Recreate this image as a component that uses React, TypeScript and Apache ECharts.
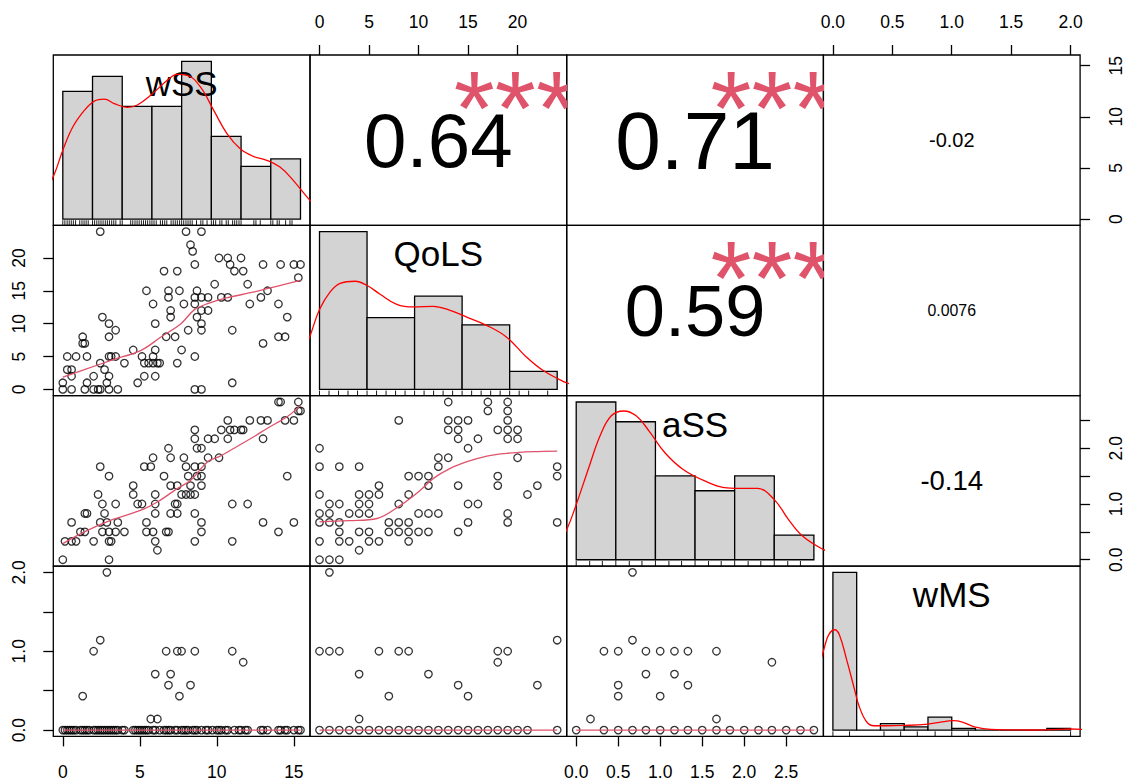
import React, { useEffect, useRef } from "react";
import * as echarts from "echarts";

const FONT = "'Liberation Sans', Arial, Helvetica, sans-serif";
const SMOOTH_COLOR = "#DF536B";
const DENSITY_COLOR = "#FF0000";
const BAR_FILL = "#D3D3D3";

// Scatterplot-matrix layout (4 x 4 panels, no gap)
const GRID_LEFT = 53.3;
const GRID_TOP = 55;
const CELL_W = 256.7;
const CELL_H = 170.35;

const variableNames = ["wSS", "QoLS", "aSS", "wMS"];
const observationCount = 113;

// Histogram breaks and counts for the diagonal
const wssBreaks = [0, 2, 4, 6, 8, 10, 12, 14, 16];
const wssCounts = [17, 19, 15, 15, 21, 11, 7, 8];
const qolsBreaks = [0, 5, 10, 15, 20, 25];
const qolsCounts = [44, 20, 26, 18, 5];
const assBreaks = [0, 0.5, 1, 1.5, 2, 2.5, 3];
const assCounts = [32, 28, 17, 14, 17, 5];
const wmsBreaks = [0, 0.2, 0.4, 0.6, 0.8, 1, 1.2, 1.4, 1.6, 1.8, 2];
const wmsCounts = [97, 0, 4, 2, 8, 1, 0, 0, 0, 1];

// Kernel density estimates [value, density]
const wssDensity = [
  [-1.2, 0.015], [-0.56, 0.0267], [0, 0.0405], [0.67, 0.0542], [1.45, 0.064], [2.12, 0.0695],
  [2.79, 0.0707], [3.46, 0.068], [4.35, 0.0658], [5.02, 0.0672], [5.92, 0.0729], [7.03, 0.0817],
  [7.7, 0.0852], [8.37, 0.0847], [9.26, 0.0778], [10.16, 0.064], [11.05, 0.0503], [11.94, 0.0414],
  [12.83, 0.0369], [13.73, 0.0346], [14.62, 0.0306], [15.51, 0.0228], [16.58, 0.0116], [17.3, 0.006],
];
const qolsDensity = [
  [-1.6, 0.019], [-0.98, 0.0266], [0, 0.0394], [1.12, 0.0481], [2.17, 0.0523], [3.75, 0.0534],
  [4.97, 0.0514], [6.37, 0.047], [8.12, 0.042], [9.87, 0.0407], [11.97, 0.041], [13.73, 0.039],
  [15.48, 0.0357], [17.58, 0.0316], [19.68, 0.0258], [21.78, 0.0159], [23.53, 0.0093],
  [25.8, 0.0036], [26.6, 0.0025],
];
const assDensity = [
  [-0.22, 0.06], [-0.12, 0.108], [0, 0.198], [0.165, 0.336], [0.3, 0.444], [0.44, 0.516],
  [0.6, 0.534], [0.76, 0.516], [0.92, 0.462], [1.12, 0.384], [1.35, 0.324], [1.63, 0.282],
  [1.9, 0.258], [2.13, 0.256], [2.29, 0.256], [2.5, 0.216], [2.68, 0.144], [2.86, 0.084],
  [3.11, 0.038], [3.25, 0.025],
];
const wmsDensity = [
  [-0.1, 1.9], [-0.073, 2.23], [-0.036, 2.59], [0.015, 2.73], [0.055, 2.59], [0.116, 1.91],
  [0.176, 1.18], [0.222, 0.637], [0.283, 0.227], [0.343, 0.118], [0.45, 0.118], [0.6, 0.127],
  [0.78, 0.155], [0.906, 0.218], [1.01, 0.255], [1.09, 0.218], [1.19, 0.09], [1.33, 0.018],
  [1.67, 0.003], [1.91, 0.018], [2, 0.03], [2.1, 0.018],
];

// Pairwise observations [x, y]
const wssQols = [
  [2.43, 24], [8, 24], [9, 24], [8.29, 22], [8.43, 21], [10.14, 20], [10.71, 20], [11.57, 20],
  [8.57, 19], [10.86, 19], [13, 19], [14.14, 19], [15, 19], [15.43, 19],
  [6.57, 18], [7.43, 18], [11.14, 18], [11.71, 18], [15.29, 17], [9.86, 16], [12, 16],
  [5.43, 15], [6.86, 15], [7.57, 15], [8.71, 15], [13.29, 15],
  [6.86, 14], [8.57, 14], [9, 14], [9.43, 14], [10.29, 14], [10.71, 14], [12.86, 14],
  [5.86, 13], [7.86, 13], [8.57, 13], [12.14, 13], [14, 13],
  [7, 12], [9, 12], [9.43, 12],
  [2.57, 11], [7, 11], [8.71, 11], [14.57, 11],
  [3, 10], [6, 10], [9, 10],
  [3.43, 9], [8.14, 9], [9, 9], [11, 9],
  [1.29, 8], [3, 8], [6.71, 8], [7.29, 8], [14, 8], [14.43, 8],
  [1.29, 7], [1.43, 7], [13, 7],
  [4.57, 6], [6, 6], [7.71, 6],
  [0.29, 5], [0.86, 5], [1.57, 5], [3, 5], [3.14, 5], [3.43, 5], [5.14, 5], [5.86, 5], [8.57, 5],
  [2.43, 4], [4, 4], [5.29, 4], [5.57, 4], [5.86, 4], [6.14, 4], [6.29, 4], [7.43, 4],
  [0.29, 3], [0.57, 3], [2.71, 3],
  [0.57, 2], [2, 2], [3, 2], [5.29, 2], [6, 2],
  [0, 1], [1.57, 1], [2.86, 1], [4.86, 1], [11, 1],
  [0, 0], [0.57, 0], [1.43, 0], [2, 0], [2.29, 0], [2.43, 0], [3, 0], [3.57, 0], [8.57, 0], [9, 0],
];

const wssAss = [
  [14, 2.83], [14.14, 2.83], [15.29, 2.83],
  [15.29, 2.67], [15.43, 2.67],
  [10.71, 2.5], [12.14, 2.5], [12.86, 2.5], [13.29, 2.5], [14.43, 2.5], [15, 2.5],
  [8.57, 2.33], [10.29, 2.33], [10.86, 2.33], [11.14, 2.33], [11.57, 2.33], [11.71, 2.33],
  [8.57, 2.17], [9.43, 2.17], [9.86, 2.17], [10.71, 2.17], [13, 2.17],
  [6.86, 2], [8.71, 2], [9, 2],
  [5.86, 1.83], [7, 1.83], [7.86, 1.83], [9.43, 1.83], [10.14, 1.83],
  [2.43, 1.67], [5.29, 1.67], [5.71, 1.67], [8, 1.67], [8.57, 1.67], [9, 1.67],
  [3, 1.5], [6.57, 1.5], [8.14, 1.5], [8.71, 1.5], [9, 1.5], [14.57, 1.5],
  [4.57, 1.33], [7, 1.33], [7.43, 1.33], [8.29, 1.33], [9, 1.33],
  [2.29, 1.17], [4.57, 1.17], [6, 1.17], [7.71, 1.17], [8, 1.17], [8.29, 1.17], [8.57, 1.17],
  [2.57, 1], [3.43, 1], [4.86, 1], [5.14, 1], [6, 1], [7.29, 1], [7.43, 1], [11, 1], [12, 1],
  [1.43, 0.83], [1.57, 0.83], [2.71, 0.83], [6, 0.83], [7, 0.83], [7.43, 0.83], [8.57, 0.83],
  [0.57, 0.67], [2.43, 0.67], [2.86, 0.67], [3.57, 0.67], [5.43, 0.67], [9, 0.67], [13, 0.67], [15, 0.67],
  [1.14, 0.5], [1.43, 0.5], [2.57, 0.5], [3, 0.5], [3.43, 0.5], [4, 0.5], [5.43, 0.5], [5.86, 0.5],
  [6.71, 0.5], [6.86, 0.5], [9, 0.5], [14, 0.5],
  [0.14, 0.33], [0.57, 0.33], [0.86, 0.33], [2, 0.33], [3, 0.33], [3.14, 0.33], [6, 0.33], [8.57, 0.33], [11, 0.33],
  [6.14, 0.17],
  [0, 0], [3, 0],
];

const qolsAss = [
  [13, 2.83], [17, 2.83], [19, 2.83],
  [17, 2.67], [19, 2.67],
  [8, 2.5], [13, 2.5], [14, 2.5], [15, 2.5], [19, 2.5],
  [13, 2.33], [14, 2.33], [18, 2.33], [19, 2.33], [20, 2.33],
  [14, 2.17], [16, 2.17], [19, 2.17], [20, 2.17],
  [0, 2], [15, 2],
  [12, 1.83], [13, 1.83], [20, 1.83],
  [0, 1.67], [2, 1.67], [4, 1.67], [12, 1.67], [24, 1.67],
  [9, 1.5], [10, 1.5], [11, 1.5], [18, 1.5], [24, 1.5],
  [6, 1.33], [11, 1.33], [14, 1.33], [18, 1.33], [22, 1.33],
  [0, 1.17], [4, 1.17], [5, 1.17], [6, 1.17], [9, 1.17], [21, 1.17],
  [1, 1], [2, 1], [4, 1], [5, 1], [8, 1], [15, 1], [16, 1],
  [0, 0.83], [1, 0.83], [3, 0.83], [4, 0.83], [5, 0.83], [10, 0.83], [11, 0.83], [12, 0.83], [19, 0.83],
  [0, 0.67], [1, 0.67], [2, 0.67], [7, 0.67], [8, 0.67], [9, 0.67], [15, 0.67], [19, 0.67], [24, 0.67],
  [2, 0.5], [4, 0.5], [5, 0.5], [7, 0.5], [8, 0.5], [9, 0.5], [10, 0.5], [11, 0.5], [14, 0.5],
  [0, 0.33], [2, 0.33], [3, 0.33], [5, 0.33], [6, 0.33], [9, 0.33],
  [4, 0.17],
  [0, 0], [1, 0], [2, 0],
];

const wssWmsNonzero = [
  [2.86, 2], [2.43, 1.14], [2, 1], [6.71, 1], [7.43, 1], [7.71, 1], [8.57, 1], [11, 1],
  [11.71, 0.86], [6, 0.71], [7, 0.71], [6.86, 0.57], [8.29, 0.57], [1.29, 0.43], [7.57, 0.43],
  [5.71, 0.14], [6.14, 0.14],
];
const wssAtZeroWms = [
  0, 0.14, 0.29, 0.43, 0.57, 0.71, 0.86, 1.14, 1.29, 1.43, 1.57, 1.71, 2, 2.14, 2.29, 2.43, 2.57,
  2.71, 2.86, 3, 3.14, 3.29, 3.43, 3.57, 3.86, 4, 4.57, 4.71, 4.86, 5, 5.14, 5.29, 5.43, 5.57,
  5.86, 6, 6.29, 6.57, 6.71, 6.86, 7, 7.29, 7.43, 7.71, 7.86, 8, 8.14, 8.43, 8.57, 8.71, 9, 9.29,
  9.43, 9.71, 10, 10.14, 10.29, 10.57, 10.71, 11.14, 11.43, 11.57, 11.86, 12, 12.86, 13, 13.29,
  14, 14.14, 14.43, 14.57, 15, 15.29, 15.43,
];

const qolsWmsNonzero = [
  [1, 2], [24, 1.14], [0, 1], [1, 1], [2, 1], [6, 1], [8, 1], [9, 1], [18, 1], [19, 1],
  [18, 0.86], [4, 0.71], [11, 0.71], [14, 0.57], [22, 0.57], [7, 0.43], [15, 0.43], [4, 0.14],
];
const qolsAtZeroWms = [
  0, 1, 2, 3, 4, 5, 6, 7, 8, 9, 10, 11, 12, 13, 14, 15, 16, 17, 18, 19, 20, 21, 24,
];

const assWmsNonzero = [
  [0.67, 2], [0.67, 1.14], [0.33, 1], [0.5, 1], [0.83, 1], [1, 1], [1.17, 1], [1.33, 1], [1.67, 1],
  [2.33, 0.86], [0.83, 0.71], [1.17, 0.71], [0.5, 0.57], [1.33, 0.57], [0.5, 0.43], [1, 0.43],
  [0.17, 0.14], [1.67, 0.14],
];
const assAtZeroWms = [
  0, 0.33, 0.5, 0.67, 0.83, 1, 1.17, 1.33, 1.5, 1.67, 1.83, 2, 2.17, 2.33, 2.5, 2.67, 2.83,
];

// Local regression (lowess) curves [x, fitted y]
const smoothWssQols = [
  [0, 1.88], [1.4, 3.0], [3.13, 4.42], [5.08, 5.94], [6.37, 7.97], [7.67, 10.0], [8.53, 12.1],
  [9.4, 13.05], [10.69, 13.96], [12.42, 14.82], [14.14, 15.84], [15.43, 16.6],
];
const smoothWssAss = [
  [0, 0.29], [1.4, 0.5], [3.13, 0.71], [5.08, 0.89], [6.16, 1.04], [7.45, 1.28], [8.32, 1.43],
  [9.4, 1.76], [10.15, 1.85], [11.12, 2.0], [12.42, 2.21], [13.28, 2.36], [14.58, 2.57], [15.43, 2.77],
];
const smoothQolsAss = [
  [0, 0.68], [3, 0.7], [5.8, 0.74], [8.2, 0.98], [10.2, 1.25], [11.5, 1.46], [13.2, 1.64],
  [14.9, 1.76], [16.9, 1.86], [18.9, 1.91], [21.6, 1.94], [24, 1.95],
];

// Axis ticks
const wssTicks = [0, 5, 10, 15];
const qolsTicks = [0, 5, 10, 15, 20];
const assTicks = [0, 0.5, 1, 1.5, 2, 2.5];
const wmsTicks = [0, 0.5, 1, 1.5, 2];
const sparseVerticalLabels = [0, 1, 2];

// Upper-triangle correlations
const corrCells = [[0, 1], [0, 2], [0, 3], [1, 2], [1, 3], [2, 3]];
const corrValues = [0.64, 0.71, -0.02, 0.59, 0.0076, -0.14];
const corrLabels = ["0.64", "0.71", "-0.02", "0.59", "0.0076", "-0.14"];
const corrStars = ["***", "***", "", "***", "", ""];

function extendRange(lo: number, hi: number): [number, number] {
  const pad = (hi - lo) * 0.04;
  return [lo - pad, hi + pad];
}

function uniqueSorted(vals: number[]) {
  return Array.from(new Set(vals)).sort((a, b) => a - b);
}

function textWidthEm(s: string) {
  let w = 0;
  for (const ch of s) w += ch === "." ? 0.278 : ch === "-" ? 0.584 : ch === "*" ? 0.389 : 0.556;
  return w;
}

function buildOption() {
  const withZero = (xs: number[]) => xs.map((x) => [x, 0]);
  const panelPoints: Record<string, number[][]> = {
    "1-0": wssQols,
    "2-0": wssAss,
    "2-1": qolsAss,
    "3-0": [...withZero(wssAtZeroWms), ...wssWmsNonzero],
    "3-1": [...withZero(qolsAtZeroWms), ...qolsWmsNonzero],
    "3-2": [...withZero(assAtZeroWms), ...assWmsNonzero],
  };
  const panelSmooth: Record<string, number[][] | null> = {
    "1-0": smoothWssQols,
    "2-0": smoothWssAss,
    "2-1": smoothQolsAss,
    "3-0": null,
    "3-1": null,
    "3-2": null,
  };

  const varValues: number[][] = [[], [], [], []];
  Object.keys(panelPoints).forEach((key) => {
    const [r, c] = key.split("-").map(Number);
    panelPoints[key].forEach(([x, y]) => {
      varValues[c].push(x);
      varValues[r].push(y);
    });
  });
  const varRanges = varValues.map((v) => extendRange(Math.min(...v), Math.max(...v)));

  const breaksList = [wssBreaks, qolsBreaks, assBreaks, wmsBreaks];
  const countsList = [wssCounts, qolsCounts, assCounts, wmsCounts];
  const densityList = [wssDensity, qolsDensity, assDensity, wmsDensity];
  const ticksList = [wssTicks, qolsTicks, assTicks, wmsTicks];
  const rugList = [
    uniqueSorted(panelPoints["3-0"].map((p) => p[0])),
    uniqueSorted(panelPoints["3-1"].map((p) => p[0])),
    uniqueSorted(panelPoints["3-2"].map((p) => p[0])),
    uniqueSorted(panelPoints["3-0"].map((p) => p[1])),
  ];

  const labelMargin: Record<string, number> = { top: 24, bottom: 27, left: 25.3, right: 27.2 };

  const makeAxis = (g: number, v: number, range: number[], position: string | null, vertical: boolean) => {
    if (!position) {
      return { type: "value", gridIndex: g, min: range[0], max: range[1], show: false };
    }
    const labels = vertical && v >= 2 ? sparseVerticalLabels : ticksList[v];
    return {
      type: "value",
      gridIndex: g,
      min: range[0],
      max: range[1],
      position,
      show: true,
      axisLine: { show: false, onZero: false },
      splitLine: { show: false },
      axisTick: {
        show: true,
        inside: false,
        length: 10,
        customValues: ticksList[v],
        lineStyle: { color: "#000", width: 1.3 },
      },
      axisLabel: {
        show: true,
        customValues: labels,
        formatter: (val: number) => (v >= 2 ? val.toFixed(1) : String(val)),
        color: "#000",
        fontSize: 17.5,
        fontFamily: FONT,
        margin: labelMargin[position],
        rotate: vertical ? 90 : 0,
      },
    };
  };

  const grids: any[] = [];
  const xAxes: any[] = [];
  const yAxes: any[] = [];
  const series: any[] = [];

  for (let r = 0; r < 4; r++) {
    for (let c = 0; c < 4; c++) {
      const g = r * 4 + c;
      grids.push({
        left: GRID_LEFT + c * CELL_W,
        top: GRID_TOP + r * CELL_H,
        width: CELL_W,
        height: CELL_H,
        show: true,
        borderColor: "#000",
        borderWidth: 1.3,
        backgroundColor: "transparent",
        containLabel: false,
        outerBoundsMode: "none",
      });

      if (r === c) {
        const br = breaksList[r];
        const counts = countsList[r];
        const dens = counts.map((n, i) => n / (observationCount * (br[i + 1] - br[i])));
        const dMax = Math.max(...dens);
        const xr = extendRange(br[0], br[br.length - 1]);
        xAxes.push({ type: "value", gridIndex: g, min: xr[0], max: xr[1], show: false });
        yAxes.push({ type: "value", gridIndex: g, min: -0.04 * dMax, max: 1.04 * dMax, show: false });

        series.push({
          type: "custom",
          xAxisIndex: g,
          yAxisIndex: g,
          silent: true,
          encode: { x: [0, 1], y: 2 },
          data: dens.map((d, i) => [br[i], br[i + 1], d]),
          renderItem: (params: any, api: any) => {
            const a = api.coord([api.value(0), 0]);
            const b = api.coord([api.value(1), api.value(2)]);
            return {
              type: "rect",
              shape: { x: a[0], y: b[1], width: b[0] - a[0], height: a[1] - b[1] },
              style: { fill: BAR_FILL, stroke: "#000", lineWidth: 1.3 },
            };
          },
        });
        series.push({
          type: "line",
          xAxisIndex: g,
          yAxisIndex: g,
          data: densityList[r],
          smooth: 0.4,
          showSymbol: false,
          silent: true,
          clip: true,
          lineStyle: { color: DENSITY_COLOR, width: 1.3 },
        });
        series.push({
          type: "custom",
          xAxisIndex: g,
          yAxisIndex: g,
          silent: true,
          data: rugList[r].map((v) => [v, 0]),
          renderItem: (params: any, api: any) => {
            const cs = params.coordSys;
            const p = api.coord([api.value(0), 0]);
            const yb = cs.y + cs.height;
            return {
              type: "line",
              shape: { x1: p[0], y1: yb, x2: p[0], y2: yb - 0.03 * cs.height },
              style: { stroke: "#000", lineWidth: 0.9 },
            };
          },
        });
        const name = variableNames[r];
        series.push({
          type: "custom",
          xAxisIndex: g,
          yAxisIndex: g,
          silent: true,
          data: [[br[0], 0]],
          renderItem: (params: any) => {
            const cs = params.coordSys;
            return {
              type: "text",
              x: cs.x + cs.width * 0.5,
              y: cs.y + cs.height * (1 - 5 / 6),
              style: {
                text: name,
                fontSize: 35,
                fontFamily: FONT,
                fill: "#000",
                align: "center",
                verticalAlign: "middle",
              },
            };
          },
        });
        continue;
      }

      const xPos = r === 0 && c % 2 === 1 ? "top" : r === 3 && c % 2 === 0 ? "bottom" : null;
      const yPos = c === 0 && r % 2 === 1 ? "left" : c === 3 && r % 2 === 0 ? "right" : null;
      xAxes.push(makeAxis(g, c, varRanges[c], xPos, false));
      yAxes.push(makeAxis(g, r, varRanges[r], yPos, true));

      if (r > c) {
        const key = `${r}-${c}`;
        const pts = panelPoints[key];
        series.push({
          type: "scatter",
          xAxisIndex: g,
          yAxisIndex: g,
          data: pts,
          symbol: "circle",
          symbolSize: 7.5,
          silent: true,
          itemStyle: { color: "rgba(0,0,0,0)", borderColor: "#000", borderWidth: 1.3 },
        });
        let smooth = panelSmooth[key];
        if (!smooth) {
          const xs = pts.map((p) => p[0]);
          smooth = [[Math.min(...xs), 0], [Math.max(...xs), 0]];
        }
        series.push({
          type: "line",
          xAxisIndex: g,
          yAxisIndex: g,
          data: smooth,
          smooth: 0.35,
          showSymbol: false,
          silent: true,
          lineStyle: { color: SMOOTH_COLOR, width: 1.3 },
        });
      } else {
        const idx = corrCells.findIndex(([a, b]) => a === r && b === c);
        const label = corrLabels[idx];
        const rv = Math.abs(corrValues[idx]);
        const stars = corrStars[idx];
        const base = (0.8 * CELL_W) / textWidthEm(label);
        const size = (base * (rv + 0.3)) / 1.3;
        series.push({
          type: "custom",
          xAxisIndex: g,
          yAxisIndex: g,
          silent: true,
          clip: true,
          data: [[varRanges[c][0], varRanges[r][0]]],
          renderItem: (params: any) => {
            const cs = params.coordSys;
            const children: any[] = [
              {
                type: "text",
                x: cs.x + cs.width * 0.5,
                y: cs.y + cs.height * 0.5,
                style: {
                  text: label,
                  fontSize: size,
                  fontFamily: FONT,
                  fill: "#000",
                  align: "center",
                  verticalAlign: "middle",
                },
              },
            ];
            if (stars) {
              children.push({
                type: "text",
                x: cs.x + cs.width * 0.8,
                y: cs.y + cs.height * 0.2 + 0.18 * base,
                style: {
                  text: stars,
                  fontSize: base,
                  fontFamily: FONT,
                  fill: SMOOTH_COLOR,
                  align: "center",
                  verticalAlign: "middle",
                },
              });
            }
            return { type: "group", children };
          },
        });
      }
    }
  }

  return {
    animation: false,
    backgroundColor: "#fff",
    grid: grids,
    xAxis: xAxes,
    yAxis: yAxes,
    series,
  };
}

export default function App() {
  const ref = useRef<HTMLDivElement>(null);
  useEffect(() => {
    if (!ref.current) return;
    const chart = echarts.init(ref.current, null, { renderer: "svg" });
    chart.setOption(buildOption() as any);
    return () => chart.dispose();
  }, []);
  return (
    <div
      ref={ref}
      style={{ position: "fixed", left: 0, top: 0, width: 1128, height: 781, background: "#fff" }}
    />
  );
}
